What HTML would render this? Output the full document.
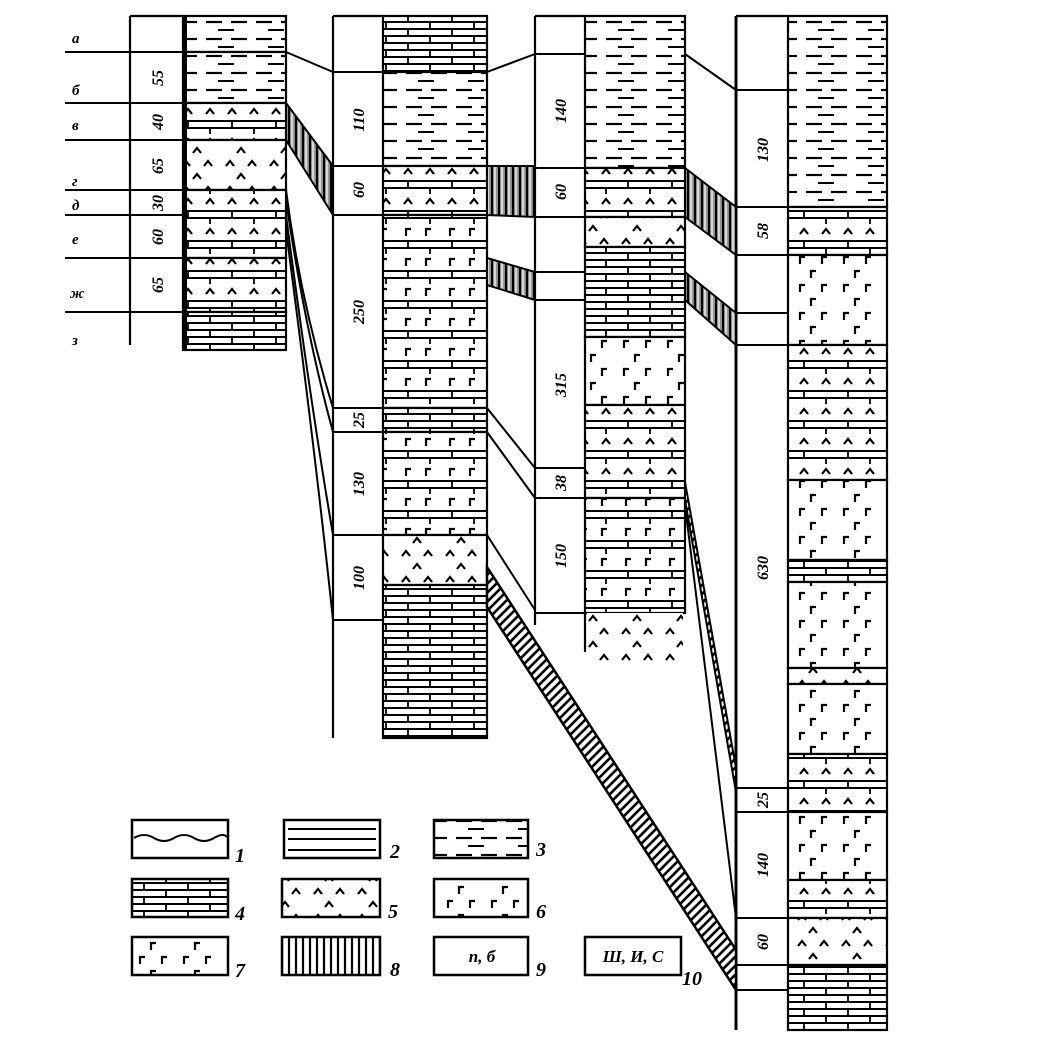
<!DOCTYPE html>
<html><head><meta charset="utf-8"><style>
html,body{margin:0;padding:0;background:#fff;}
svg{display:block;}
text{font-family:"Liberation Serif","DejaVu Serif",serif;font-style:italic;font-weight:bold;fill:#000;}
</style></head><body>
<svg width="1051" height="1063" viewBox="0 0 1051 1063" xmlns="http://www.w3.org/2000/svg">
<defs>
<pattern id="b" width="44" height="14" patternUnits="userSpaceOnUse">
<rect width="44" height="14" fill="#fff"/>
<line x1="0" y1="1" x2="44" y2="1" stroke="#000" stroke-width="2"/>
<line x1="0" y1="8" x2="44" y2="8" stroke="#000" stroke-width="2"/>
<line x1="12" y1="1" x2="12" y2="8" stroke="#000" stroke-width="1.8"/>
<line x1="34" y1="8" x2="34" y2="14" stroke="#000" stroke-width="1.8"/>
</pattern>
<pattern id="sh" width="50" height="17" patternUnits="userSpaceOnUse">
<rect width="50" height="17" fill="#fff"/>
<line x1="6" y1="5" x2="22" y2="5" stroke="#000" stroke-width="2.2"/>
<line x1="31" y1="5" x2="47" y2="5" stroke="#000" stroke-width="2.2"/>
<line x1="18" y1="13" x2="34" y2="13" stroke="#000" stroke-width="2"/>
</pattern>
<pattern id="bc" width="44" height="30" patternUnits="userSpaceOnUse">
<rect width="44" height="30" fill="#fff"/>
<line x1="0" y1="1" x2="44" y2="1" stroke="#000" stroke-width="2"/>
<line x1="0" y1="8" x2="44" y2="8" stroke="#000" stroke-width="2"/>
<line x1="12" y1="1" x2="12" y2="8" stroke="#000" stroke-width="1.8"/>
<line x1="34" y1="8" x2="34" y2="14" stroke="#000" stroke-width="1.8"/>
<path d="M8 24 l4 -5 l4 5 M30 24 l4 -5 l4 5" stroke="#000" stroke-width="2.2" fill="none"/>
</pattern>
<pattern id="bg" width="44" height="30" patternUnits="userSpaceOnUse">
<rect width="44" height="30" fill="#fff"/>
<line x1="0" y1="1" x2="44" y2="1" stroke="#000" stroke-width="2"/>
<line x1="0" y1="8" x2="44" y2="8" stroke="#000" stroke-width="2"/>
<line x1="12" y1="1" x2="12" y2="8" stroke="#000" stroke-width="1.8"/>
<line x1="34" y1="8" x2="34" y2="14" stroke="#000" stroke-width="1.8"/>
<path d="M10 26 v-7 h5 M30 26 v-7 h5" stroke="#000" stroke-width="2.2" fill="none"/>
</pattern>
<pattern id="car" width="44" height="26" patternUnits="userSpaceOnUse">
<rect width="44" height="26" fill="#fff"/>
<path d="M6 10 l4 -5 l4 5 M28 10 l4 -5 l4 5 M17 23 l4 -5 l4 5" stroke="#000" stroke-width="2.2" fill="none"/>
</pattern>
<pattern id="gam" width="44" height="28" patternUnits="userSpaceOnUse">
<rect width="44" height="28" fill="#fff"/>
<path d="M8 12 v-7 h5 M30 12 v-7 h5 M19 26 v-7 h5" stroke="#000" stroke-width="2.2" fill="none"/>
</pattern>
<pattern id="vl" width="7" height="10" patternUnits="userSpaceOnUse">
<rect width="7" height="10" fill="#fff"/>
<line x1="2" y1="0" x2="2" y2="10" stroke="#000" stroke-width="2.2"/>
</pattern>
<pattern id="vg" width="7" height="10" patternUnits="userSpaceOnUse">
<rect width="7" height="10" fill="#999"/>
<line x1="2" y1="0" x2="2" y2="10" stroke="#000" stroke-width="2.2"/>
<line x1="5" y1="0" x2="5" y2="10" stroke="#fff" stroke-width="1.2"/>
</pattern>
<pattern id="dh" width="9" height="9" patternUnits="userSpaceOnUse">
<rect width="9" height="9" fill="#fff"/>
<path d="M0 9 L9 0 M-4.5 4.5 L4.5 -4.5 M4.5 13.5 L13.5 4.5" stroke="#000" stroke-width="2.6"/>
</pattern>
</defs>

<g stroke="#000" stroke-width="2.2">
<!-- Column 1 -->
<rect x="183" y="16" width="103" height="36" fill="url(#sh)"/>
<rect x="183" y="52" width="103" height="51" fill="url(#sh)"/>
<rect x="183" y="103" width="103" height="37" fill="url(#bc)"/>
<rect x="183" y="140" width="103" height="50" fill="url(#car)"/>
<rect x="183" y="190" width="103" height="68" fill="url(#bc)"/>
<rect x="183" y="258" width="103" height="54" fill="url(#bc)"/>
<rect x="183" y="312" width="103" height="38" fill="url(#b)"/>
<line x1="185" y1="16" x2="185" y2="350" stroke-width="4"/>
<line x1="130" y1="16" x2="130" y2="345"/>
<line x1="130" y1="16" x2="183" y2="16"/>
<g stroke-width="2">
<line x1="65" y1="52" x2="183" y2="52"/><line x1="65" y1="103" x2="183" y2="103"/>
<line x1="65" y1="140" x2="183" y2="140"/><line x1="65" y1="190" x2="183" y2="190"/>
<line x1="65" y1="215" x2="183" y2="215"/><line x1="65" y1="258" x2="183" y2="258"/>
<line x1="65" y1="312" x2="183" y2="312"/>
</g>

<!-- Column 2 -->
<rect x="383" y="16" width="104" height="56" fill="url(#b)"/>
<rect x="383" y="72" width="104" height="94" fill="url(#sh)"/>
<rect x="383" y="166" width="104" height="49" fill="url(#bc)"/>
<rect x="383" y="215" width="104" height="193" fill="url(#bg)"/>
<rect x="383" y="408" width="104" height="24" fill="url(#b)"/>
<rect x="383" y="432" width="104" height="103" fill="url(#bg)"/>
<rect x="383" y="535" width="104" height="50" fill="url(#car)"/>
<rect x="383" y="585" width="104" height="153" fill="url(#b)"/>
<line x1="333" y1="16" x2="333" y2="738"/>
<line x1="333" y1="16" x2="383" y2="16"/>
<g stroke-width="2">
<line x1="333" y1="72" x2="383" y2="72"/><line x1="333" y1="166" x2="383" y2="166"/>
<line x1="333" y1="215" x2="383" y2="215"/><line x1="333" y1="408" x2="383" y2="408"/>
<line x1="333" y1="432" x2="383" y2="432"/><line x1="333" y1="535" x2="383" y2="535"/>
<line x1="333" y1="620" x2="383" y2="620"/>
</g>

<!-- Column 3 -->
<rect x="585" y="16" width="100" height="152" fill="url(#sh)"/>
<rect x="585" y="168" width="100" height="49" fill="url(#bc)"/>
<rect x="585" y="217" width="100" height="30" fill="url(#car)"/>
<rect x="585" y="247" width="100" height="90" fill="url(#b)"/>
<rect x="585" y="337" width="100" height="68" fill="url(#gam)"/>
<rect x="585" y="405" width="100" height="93" fill="url(#bc)"/>
<rect x="585" y="498" width="100" height="115" fill="url(#bg)"/>
<rect x="587" y="613" width="96" height="52" fill="url(#car)" stroke="none"/>
<line x1="535" y1="16" x2="535" y2="625"/>
<line x1="535" y1="16" x2="585" y2="16"/>
<line x1="585" y1="613" x2="585" y2="652"/>
<g stroke-width="2">
<line x1="535" y1="54" x2="585" y2="54"/><line x1="535" y1="168" x2="585" y2="168"/>
<line x1="535" y1="217" x2="585" y2="217"/><line x1="535" y1="272" x2="585" y2="272"/>
<line x1="535" y1="300" x2="585" y2="300"/><line x1="535" y1="468" x2="585" y2="468"/>
<line x1="535" y1="498" x2="585" y2="498"/><line x1="535" y1="613" x2="585" y2="613"/>
</g>

<!-- Column 4 -->
<rect x="788" y="16" width="99" height="191" fill="url(#sh)"/>
<rect x="788" y="207" width="99" height="48" fill="url(#bc)"/>
<rect x="788" y="255" width="99" height="90" fill="url(#gam)"/>
<rect x="788" y="345" width="99" height="135" fill="url(#bc)"/>
<rect x="788" y="480" width="99" height="80" fill="url(#gam)"/>
<rect x="788" y="560" width="99" height="22" fill="url(#b)"/>
<rect x="788" y="582" width="99" height="86" fill="url(#gam)"/>
<rect x="788" y="668" width="99" height="16" fill="url(#car)"/>
<rect x="788" y="684" width="99" height="70" fill="url(#gam)"/>
<rect x="788" y="754" width="99" height="58" fill="url(#bc)"/>
<rect x="788" y="812" width="99" height="68" fill="url(#gam)"/>
<rect x="788" y="880" width="99" height="38" fill="url(#bc)"/>
<rect x="788" y="918" width="99" height="47" fill="url(#car)"/>
<rect x="788" y="965" width="99" height="65" fill="url(#b)"/>
<line x1="736" y1="16" x2="736" y2="1030" stroke-width="3"/>
<line x1="736" y1="16" x2="788" y2="16"/>
<g stroke-width="2">
<line x1="736" y1="90" x2="788" y2="90"/><line x1="736" y1="207" x2="788" y2="207"/>
<line x1="736" y1="255" x2="788" y2="255"/><line x1="736" y1="313" x2="788" y2="313"/>
<line x1="736" y1="345" x2="788" y2="345"/><line x1="736" y1="788" x2="788" y2="788"/>
<line x1="736" y1="812" x2="788" y2="812"/><line x1="736" y1="918" x2="788" y2="918"/>
<line x1="736" y1="965" x2="788" y2="965"/><line x1="736" y1="990" x2="788" y2="990"/>
</g>

<!-- connectors col1-col2 -->
<line x1="286" y1="52" x2="333" y2="72" stroke-width="2"/>
<polygon points="286,103 333,166 333,215 286,140" fill="url(#vg)" stroke-width="2"/>
<g stroke-width="2" fill="none">
<path d="M286 190 Q300 300 333 408"/>
<path d="M286 200 Q305 330 333 432"/>
<path d="M286 215 Q310 400 333 535"/>
<path d="M286 230 Q315 450 333 620"/>
</g>
<!-- col2-col3 -->
<line x1="487" y1="72" x2="535" y2="54" stroke-width="2"/>
<polygon points="487,166 535,166 535,217 487,215" fill="url(#vg)" stroke-width="2"/>
<polygon points="487,258 535,272 535,300 487,285" fill="url(#vg)" stroke-width="2"/>
<line x1="487" y1="408" x2="535" y2="468" stroke-width="2"/>
<line x1="487" y1="432" x2="535" y2="498" stroke-width="2"/>
<line x1="487" y1="535" x2="535" y2="610" stroke-width="2"/>
<polygon points="487,567 736,950 736,990 487,607" fill="url(#dh)" stroke-width="2.5"/>
<!-- col3-col4 -->
<line x1="685" y1="54" x2="736" y2="90" stroke-width="2"/>
<polygon points="685,168 736,207 736,255 685,217" fill="url(#vg)" stroke-width="2"/>
<polygon points="685,272 736,313 736,345 685,300" fill="url(#vg)" stroke-width="2"/>
<polygon points="685,482 736,768 736,792 685,500" fill="url(#dh)" stroke-width="2"/>
<line x1="685" y1="505" x2="736" y2="918" stroke-width="2"/>
</g>

<!-- left letters -->
<g font-size="15">
<text x="72" y="43">а</text><text x="72" y="95">б</text><text x="72" y="130">в</text>
<text x="72" y="186">г</text><text x="72" y="210">д</text><text x="72" y="244">е</text>
<text x="70" y="298">ж</text><text x="72" y="345">з</text>
</g>

<!-- thickness numbers -->
<g font-size="16" text-anchor="middle">
<text transform="translate(163,78) rotate(-90)">55</text>
<text transform="translate(163,122) rotate(-90)">40</text>
<text transform="translate(163,166) rotate(-90)">65</text>
<text transform="translate(163,203) rotate(-90)">30</text>
<text transform="translate(163,237) rotate(-90)">60</text>
<text transform="translate(163,285) rotate(-90)">65</text>
<text transform="translate(364,120) rotate(-90)">110</text>
<text transform="translate(364,190) rotate(-90)">60</text>
<text transform="translate(364,312) rotate(-90)">250</text>
<text transform="translate(364,420) rotate(-90)">25</text>
<text transform="translate(364,484) rotate(-90)">130</text>
<text transform="translate(364,578) rotate(-90)">100</text>
<text transform="translate(566,111) rotate(-90)">140</text>
<text transform="translate(566,192) rotate(-90)">60</text>
<text transform="translate(566,385) rotate(-90)">315</text>
<text transform="translate(566,483) rotate(-90)">38</text>
<text transform="translate(566,556) rotate(-90)">150</text>
<text transform="translate(768,150) rotate(-90)">130</text>
<text transform="translate(768,231) rotate(-90)">58</text>
<text transform="translate(768,568) rotate(-90)">630</text>
<text transform="translate(768,800) rotate(-90)">25</text>
<text transform="translate(768,865) rotate(-90)">140</text>
<text transform="translate(768,942) rotate(-90)">60</text>
</g>

<!-- legend -->
<g stroke="#000" stroke-width="2.5">
<rect x="132" y="820" width="96" height="38" fill="#fff"/>
<path d="M134 838 q10 -6 20 0 t20 0 t20 0 t20 0 t14 0" fill="none" stroke-width="2"/>
<rect x="284" y="820" width="96" height="38" fill="#fff"/>
<g stroke-width="2"><line x1="288" y1="829" x2="376" y2="829"/><line x1="288" y1="839" x2="376" y2="839"/><line x1="288" y1="850" x2="376" y2="850"/></g>
<rect x="434" y="820" width="94" height="38" fill="url(#sh)"/>
<rect x="132" y="879" width="96" height="38" fill="url(#b)"/>
<rect x="282" y="879" width="98" height="38" fill="url(#car)"/>
<rect x="434" y="879" width="94" height="38" fill="url(#gam)"/>
<rect x="132" y="937" width="96" height="38" fill="url(#gam)"/>
<rect x="282" y="937" width="98" height="38" fill="url(#vl)"/>
<rect x="434" y="937" width="94" height="38" fill="#fff"/>
<rect x="585" y="937" width="96" height="38" fill="#fff"/>
</g>
<g font-size="20">
<text x="235" y="862">1</text><text x="390" y="858">2</text><text x="536" y="856">3</text>
<text x="235" y="920">4</text><text x="388" y="918">5</text><text x="536" y="918">6</text>
<text x="235" y="977">7</text><text x="390" y="976">8</text><text x="536" y="976">9</text>
<text x="682" y="985">10</text>
</g>
<g font-size="17" text-anchor="middle">
<text x="482" y="962">п, б</text>
<text x="633" y="962">Ш, И, С</text>
</g>
</svg>
</body></html>
